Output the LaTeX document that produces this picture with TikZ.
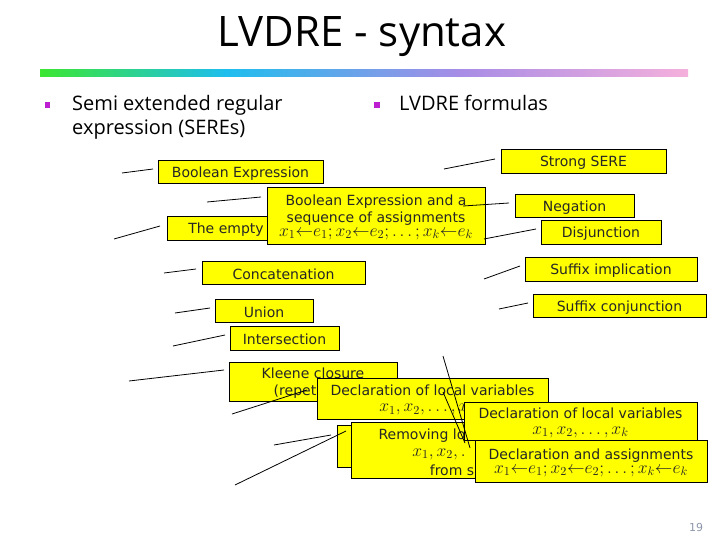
\documentclass[tikz,border=0pt]{standalone}
\usepackage[no-math]{fontspec}
\usepackage{graphicx}
\setmainfont{DejaVu Sans}
\newfontfamily\headfont{Open Sans}
\usetikzlibrary{calc}
\definecolor{boxyellow}{RGB}{255,255,0}
\definecolor{bulletpurple}{RGB}{190,30,210}
\definecolor{pagegray}{RGB}{140,150,170}
\definecolor{barA}{RGB}{60,230,50}
\definecolor{barB}{RGB}{30,190,238}
\definecolor{barC}{RGB}{168,140,230}
\definecolor{barD}{RGB}{245,176,220}
\tikzset{
  box/.style={draw=black,line width=0.9pt,fill=boxyellow,inner sep=0pt,align=center,
    font=\fontsize{14}{17}\selectfont,text=black!85},
  lead/.style={draw=black,line width=0.8pt},
  head/.style={font=\headfont\fontsize{20}{24.5}\selectfont,align=left,anchor=north west,inner sep=0pt,text=black},
  remtext/.style={font=\fontsize{14}{17}\selectfont,inner sep=0pt,text=black!85}
}
\newcommand{\bx}[6]{\node[box,minimum width=#4pt-#2pt,minimum height=#5pt-#3pt] (#1) at ({(#2+#4)/2},{(#3+#5)/2}) {\rule{0pt}{14pt}#6};}
\newcommand{\ld}[5]{\coordinate (#1a) at (#2,#3); \coordinate (#1b) at (#4,#5); \draw[lead] (#1a) -- (#1b);}
\newcommand{\assign}{\scalebox{1.22}{$x_1{\leftarrow}e_1;x_2{\leftarrow}e_2;\ldots;x_k{\leftarrow}e_k$}}
\newcommand{\vars}{\scalebox{1.22}{$x_1,x_2,\ldots,x_k$}}
\begin{document}
\begin{tikzpicture}[x=1pt,y=-1pt]
\useasboundingbox (0,0) rectangle (720,540);
\node[font=\headfont\fontsize{42}{46}\selectfont,inner sep=0pt] (title) at (362,37) {LVDRE - syntax};
\shade[left color=barA,right color=barB] (40,70) rectangle (226,77);
\shade[left color=barB,right color=barC] (225.5,70) rectangle (461,77);
\shade[left color=barC,right color=barD] (460.5,70) rectangle (688,77);
\fill[bulletpurple] (45,102) rectangle (50,108);
\fill[bulletpurple] (374,102) rectangle (380,108);
\node[head] (sere) at (72,95) {Semi extended regular\\expression (SEREs)};
\node[head] (lvdre) at (399,95) {LVDRE formulas};
\ld{a}{122}{173}{153}{169}
\ld{b}{207}{202}{261}{197}
\ld{c}{114}{239}{160}{226}
\ld{d}{444}{169}{495}{159}
\ld{g}{484}{279}{520}{266}
\ld{h}{499}{309}{528}{303}
\ld{i}{164}{273}{196}{269}
\ld{j}{175}{313}{210}{308}
\ld{k}{173}{346}{225}{335}
\ld{l}{129}{381}{224}{370}
\ld{n}{274}{445}{331}{435}
\bx{strong}{501}{149}{666}{173}{Strong SERE}
\bx{bool}{158}{160}{323}{183}{Boolean Expression}
\bx{empty}{167}{216}{270}{240}{\hspace*{15pt}The empty}
\bx{seq}{267}{187}{485}{244}{Boolean Expression and a\\sequence of assignments\\[-3pt]\assign}
\bx{neg}{515}{194}{634}{217}{Negation}
\bx{disj}{541}{220}{661}{244}{Disjunction}
\ld{e}{463}{206}{509}{203}
\ld{f}{484}{239}{536}{229}
\bx{impl}{525}{257}{697}{281}{Suffix implication}
\bx{conj}{533}{294}{706}{317}{Suffix conjunction}
\bx{conc}{202}{261}{365}{284}{Concatenation}
\bx{union}{215}{299}{313}{322}{Union}
\bx{inter}{230}{326}{339}{350}{Intersection}
\bx{kleene}{229}{362}{397}{401}{Kleene closure\\\hspace*{-36pt}(repet}
\ld{m}{232}{414}{307}{390}
\bx{decla}{317}{378}{548}{419}{Declaration of local variables\\[-1pt]\hspace*{-10pt}\vars}
\node[box,minimum width=163pt,minimum height=42pt,anchor=north west] (hidden) at (337,425) {};
\ld{o}{235}{485}{346}{431}
\node[box,minimum width=180pt,minimum height=56pt,anchor=north west] (remove) at (351,422) {};
\node[remtext] (rema) at (422,436) {Removing lo};
\node[remtext] (remb) at (439,454) {\scalebox{1.22}{$x_1,x_2,.$}};
\node[remtext] (remc) at (452,470) {from s};
\bx{declb}{464}{402}{697}{440}{Declaration of local variables\\[-1pt]\vars}
\bx{declc}{475}{440}{707}{482}{Declaration and assignments\\[-3pt]\assign}
\ld{p}{443}{356}{470}{448}
\ld{q}{443}{392}{465}{443}
\node[font=\fontsize{11}{13}\selectfont,text=pagegray,inner sep=0pt] (page) at (696,527) {19};
\end{tikzpicture}
\end{document}
